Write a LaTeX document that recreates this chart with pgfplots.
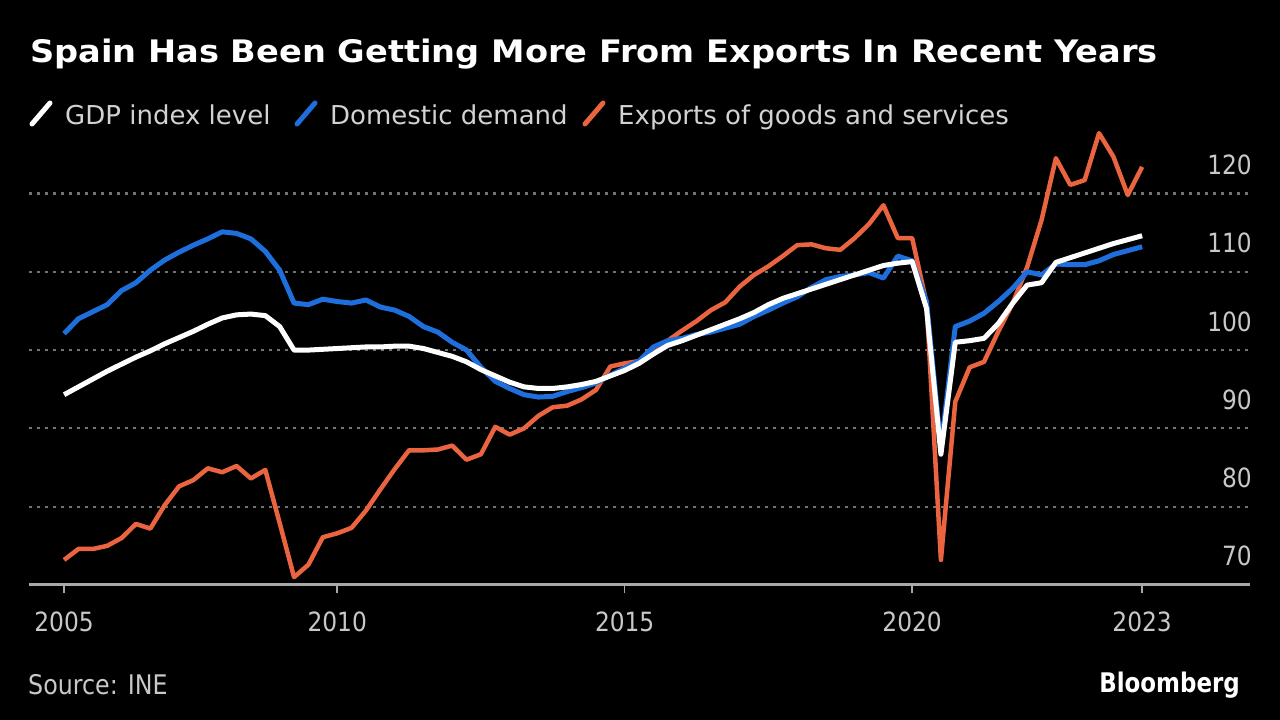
\documentclass[border=0pt]{standalone}
\usepackage{fontspec}
\setmainfont{DejaVu Sans}
\newfontfamily\titlefont{DejaVu Sans}[FakeStretch=1.085]
\newfontfamily\narrowfont{DejaVu Sans}[FakeStretch=0.88]
\newfontfamily\brandfont{DejaVu Sans}[FakeStretch=0.85]
\usepackage{pgfplots}
\usepackage{pgfplotstable}
\pgfplotsset{compat=1.18}
\definecolor{ddblue}{HTML}{1E6EDC}
\definecolor{exorange}{HTML}{EA6440}
\definecolor{lgtext}{HTML}{D2D2D2}
\definecolor{ticktext}{HTML}{C8C8C8}
\definecolor{gridc}{HTML}{727272}
\definecolor{axisc}{HTML}{A8A8A8}

\pgfplotstableread{
x gdp dd ex
2005.25 94.3 102.1 73.2
2005.50 95.3 104.0 74.6
2005.75 96.3 104.9 74.6
2006.00 97.3 105.8 75.0
2006.25 98.2 107.6 76.0
2006.50 99.1 108.6 77.8
2006.75 99.9 110.2 77.2
2007.00 100.8 111.5 80.2
2007.25 101.6 112.5 82.6
2007.50 102.4 113.4 83.4
2007.75 103.3 114.2 84.9
2008.00 104.1 115.1 84.4
2008.25 104.5 114.9 85.2
2008.50 104.6 114.2 83.6
2008.75 104.4 112.6 84.7
2009.00 103.0 110.2 77.9
2009.25 100.0 106.0 71.0
2009.50 100.0 105.8 72.6
2009.75 100.1 106.5 76.1
2010.00 100.2 106.2 76.6
2010.25 100.3 106.0 77.3
2010.50 100.4 106.4 79.5
2010.75 100.4 105.5 82.2
2011.00 100.5 105.1 84.8
2011.25 100.5 104.3 87.2
2011.50 100.2 103.0 87.2
2011.75 99.7 102.3 87.3
2012.00 99.2 101.0 87.8
2012.25 98.5 100.0 86.0
2012.50 97.5 97.8 86.7
2012.75 96.7 96.0 90.2
2013.00 95.9 95.1 89.2
2013.25 95.3 94.3 90.0
2013.50 95.1 94.0 91.6
2013.75 95.1 94.1 92.7
2014.00 95.3 94.7 92.9
2014.25 95.6 95.2 93.7
2014.50 96.0 95.8 94.9
2014.75 96.7 96.8 97.9
2015.00 97.4 97.7 98.3
2015.25 98.3 98.6 98.6
2015.50 99.5 100.4 99.5
2015.75 100.6 101.2 101.2
2016.00 101.2 101.5 102.5
2016.25 101.9 102.0 103.7
2016.50 102.6 102.3 105.1
2016.75 103.3 102.8 106.1
2017.00 104.0 103.3 108.1
2017.25 104.8 104.3 109.6
2017.50 105.8 105.1 110.7
2017.75 106.6 106.0 112.0
2018.00 107.2 106.8 113.4
2018.25 107.8 108.0 113.5
2018.50 108.4 109.0 113.0
2018.75 109.0 109.4 112.8
2019.00 109.6 109.6 114.3
2019.25 110.2 109.9 116.1
2019.50 110.8 109.2 118.5
2019.75 111.1 112.0 114.3
2020.00 111.3 111.4 114.3
2020.25 105.3 106.2 106.0
2020.50 86.7 87.5 73.2
2020.75 101.0 103.0 93.4
2021.00 101.2 103.7 97.8
2021.25 101.5 104.7 98.5
2021.50 103.4 106.2 102.4
2021.75 106.0 107.9 106.0
2022.00 108.3 110.0 110.6
2022.25 108.6 109.6 116.6
2022.50 111.2 111.0 124.5
2022.75 111.8 110.9 121.1
2023.00 112.4 110.9 121.7
2023.25 113.0 111.4 127.7
2023.50 113.6 112.2 124.7
2023.75 114.1 112.7 119.8
2024.00 114.6 113.2 123.4
}\datatable

\begin{document}
\begin{tikzpicture}
\fill[black] (0pt,0pt) rectangle (1280pt,720pt);
\useasboundingbox (0pt,0pt) rectangle (1280pt,720pt);
\begin{scope}[x=1pt,y=1pt]
% title
\node[anchor=base west, inner sep=0pt, text=white] at (30,657)
  {\titlefont\bfseries\fontsize{31}{36}\selectfont Spain Has Been Getting More From Exports In Recent Years};
% legend
\draw[white, line width=5pt, line cap=round] (32,596) -- (50,617);
\node[anchor=base west, inner sep=0pt, text=lgtext] at (65,595)
  {\fontsize{26}{30}\selectfont GDP index level};
\draw[ddblue, line width=5pt, line cap=round] (297,596) -- (315,617);
\node[anchor=base west, inner sep=0pt, text=lgtext] at (330,595)
  {\fontsize{26}{30}\selectfont Domestic demand};
\draw[exorange, line width=5pt, line cap=round] (585,596) -- (603,617);
\node[anchor=base west, inner sep=0pt, text=lgtext] at (618,595)
  {\fontsize{26}{30}\selectfont Exports of goods and services};
% footer
\node[anchor=base west, inner sep=0pt, text=ticktext] at (28,25)
  {\narrowfont\fontsize{27}{30}\selectfont Source: INE};
\node[anchor=base east, inner sep=0pt, text=white] at (1240,27)
  {\brandfont\bfseries\fontsize{27}{30}\selectfont Bloomberg};
\end{scope}

\begin{axis}[
  at={(29pt,135pt)}, anchor=south west,
  scale only axis, width=1221pt, height=462pt,
  xmin=2004.64, xmax=2025.876,
  ymin=70, ymax=129,
  axis line style={draw=none},
  xtick={2005.25,2010,2015,2020,2024},
  xticklabels={2005,2010,2015,2020,2023},
  xtick pos=bottom,
  tick align=outside,
  major tick length=8pt,
  xtick style={draw=axisc, line width=1.5pt},
  ytick={80,90,100,110,120},
  ytick style={draw=none},
  yticklabel pos=right,
  extra y ticks={70},
  extra y tick style={grid style={solid, draw=axisc, line width=3pt}},
  ymajorgrids,
  grid style={draw=gridc, line width=2.2pt, dash pattern=on 3pt off 5pt},
  tick label style={font=\narrowfont\fontsize{26.5}{30}\selectfont, text=ticktext},
  /pgf/number format/assume math mode=true,
  xticklabel style={anchor=base, inner sep=0pt, yshift=-39pt},
  yticklabel style={anchor=base east, inner sep=0pt, xshift=-6pt, yshift=19pt},
  clip=false,
]
\addplot[exorange, line width=4.5pt, line join=round] table[x=x, y=ex] {\datatable};
\addplot[ddblue, line width=5pt, line join=round] table[x=x, y=dd] {\datatable};
\addplot[white, line width=5pt, line join=round] table[x=x, y=gdp] {\datatable};
\end{axis}
\end{tikzpicture}
\end{document}
